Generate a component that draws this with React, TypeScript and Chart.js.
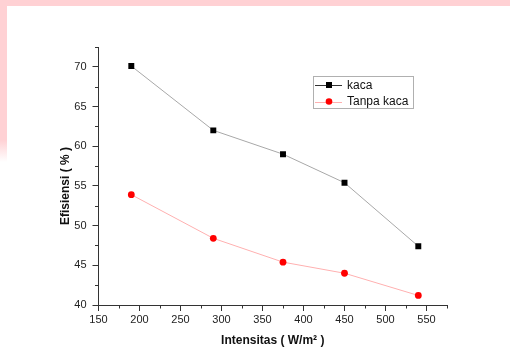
import React, { useEffect, useRef } from "react";
import { Chart, registerables } from "chart.js";

Chart.register(...registerables);

const intensitas = [190, 290, 375, 450, 540];
const kaca = [70.1, 62.0, 59.0, 55.4, 47.4];
const tanpaKaca = [53.9, 48.4, 45.4, 44.0, 41.2];
const seriesLabels = ["kaca", "Tanpa kaca"];
const xTitle = "Intensitas ( W/m\u00B2 )";
const yTitle = "Efisiensi ( % )      ";
const xRange = [150, 575];
const yRange = [40, 72.5];

const FONT = "'Liberation Sans', Arial, sans-serif";
const AXIS = "#333333";

const minorTicks = {
  id: "minorTicks",
  afterDraw(chart: any) {
    const ctx = chart.ctx;
    const xs = chart.scales.x;
    const ys = chart.scales.y;
    ctx.save();
    ctx.strokeStyle = AXIS;
    ctx.lineWidth = 1;
    ctx.beginPath();
    for (let v = xs.min + 25; v <= xs.max + 0.001; v += 50) {
      const px = Math.round(xs.getPixelForValue(v)) + 0.5;
      ctx.moveTo(px, xs.top);
      ctx.lineTo(px, xs.top + 3.5);
    }
    for (let v = ys.min + 2.5; v <= ys.max + 0.001; v += 5) {
      const py = Math.round(ys.getPixelForValue(v)) + 0.5;
      ctx.moveTo(ys.right, py);
      ctx.lineTo(ys.right - 3.5, py);
    }
    ctx.stroke();
    ctx.restore();
  },
};

const boxLegend = {
  id: "boxLegend",
  afterDraw(chart: any) {
    const ctx = chart.ctx;
    const bx = 313, by = 76, bw = 100, bh = 32;
    ctx.save();
    ctx.strokeStyle = "#b0b0b0";
    ctx.lineWidth = 1;
    ctx.strokeRect(bx + 0.5, by + 0.5, bw, bh);
    chart.data.datasets.forEach((ds: any, i: number) => {
      const y = by + 9 + i * 16.5;
      ctx.strokeStyle = ds.legendLine;
      ctx.beginPath();
      ctx.moveTo(bx + 2, Math.round(y) + 0.5);
      ctx.lineTo(bx + 29, Math.round(y) + 0.5);
      ctx.stroke();
      ctx.fillStyle = ds.pointBackgroundColor;
      ctx.beginPath();
      if (ds.pointStyle === "rect") {
        ctx.rect(bx + 16 - 3, y - 3, 6, 6);
      } else {
        ctx.arc(bx + 16, y, 3.3, 0, Math.PI * 2);
      }
      ctx.fill();
      ctx.fillStyle = "#111";
      ctx.font = `12px ${FONT}`;
      ctx.textBaseline = "middle";
      ctx.textAlign = "left";
      ctx.fillText(ds.label, bx + 34, y + 0.5);
    });
    ctx.restore();
  },
};

export default function App() {
  const ref = useRef<HTMLCanvasElement>(null);
  useEffect(() => {
    if (!ref.current) return;
    const chart = new Chart(ref.current, {
      type: "line",
      data: {
        datasets: [
          {
            label: seriesLabels[0],
            data: intensitas.map((x, i) => ({ x, y: kaca[i] })),
            borderColor: "#a8a8a8",
            borderWidth: 1,
            pointStyle: "rect",
            pointRadius: 4.2,
            pointBackgroundColor: "#000000",
            pointBorderColor: "#000000",
            pointBorderWidth: 0,
            tension: 0,
            legendLine: "#333333",
          } as any,
          {
            label: seriesLabels[1],
            data: intensitas.map((x, i) => ({ x, y: tanpaKaca[i] })),
            borderColor: "#ffb0b0",
            borderWidth: 1,
            pointStyle: "circle",
            pointRadius: 3.4,
            pointBackgroundColor: "#ff0000",
            pointBorderColor: "#ff0000",
            pointBorderWidth: 0,
            tension: 0,
            legendLine: "#ffb0b0",
          } as any,
        ],
      },
      options: {
        animation: false,
        responsive: false,
        layout: { padding: { top: 47, right: 63, left: 0, bottom: 0 } },
        plugins: {
          legend: { display: false },
          tooltip: { enabled: false },
        },
        scales: {
          x: {
            type: "linear",
            min: xRange[0],
            max: xRange[1],
            afterFit: (s: any) => {
              s.height = 44;
            },
            ticks: {
              stepSize: 50,
              includeBounds: false,
              color: "#222",
              font: { family: FONT, size: 11 },
              padding: 2,
              maxRotation: 0,
            },
            grid: {
              drawOnChartArea: false,
              drawTicks: true,
              tickLength: 6,
              tickColor: AXIS,
            },
            border: { color: AXIS, width: 1 },
            title: {
              display: true,
              text: xTitle,
              color: "#111",
              font: { family: FONT, size: 12, weight: "bold" },
              padding: { top: 0, bottom: 1 },
            },
          },
          y: {
            type: "linear",
            min: yRange[0],
            max: yRange[1],
            afterFit: (s: any) => {
              s.width = 98.5;
            },
            ticks: {
              stepSize: 5,
              includeBounds: false,
              color: "#222",
              font: { family: FONT, size: 11 },
              padding: 6,
            },
            grid: {
              drawOnChartArea: false,
              drawTicks: true,
              tickLength: 6,
              tickColor: AXIS,
            },
            border: { color: AXIS, width: 1 },
            title: {
              display: true,
              text: yTitle,
              color: "#111",
              font: { family: FONT, size: 12, weight: "bold" },
              padding: { top: 58.8, bottom: 0 },
            },
          },
        },
      },
      plugins: [minorTicks, boxLegend],
    });
    return () => chart.destroy();
  }, []);

  return (
    <div
      style={{
        position: "absolute",
        left: 0,
        top: 0,
        width: 510,
        height: 349,
        background: "#ffffff",
        overflow: "hidden",
      }}
    >
      <div
        style={{
          position: "absolute",
          left: 0,
          top: 0,
          width: 510,
          height: 6,
          background: "#ffd1d4",
        }}
      />
      <div
        style={{
          position: "absolute",
          left: 0,
          top: 0,
          width: 7,
          height: 162,
          background:
            "linear-gradient(to bottom, #ffd1d4 0px, #ffd1d4 140px, #ffffff 162px)",
        }}
      />
      <canvas
        ref={ref}
        width={510}
        height={349}
        style={{ position: "absolute", left: 0, top: 0 }}
      />
    </div>
  );
}
